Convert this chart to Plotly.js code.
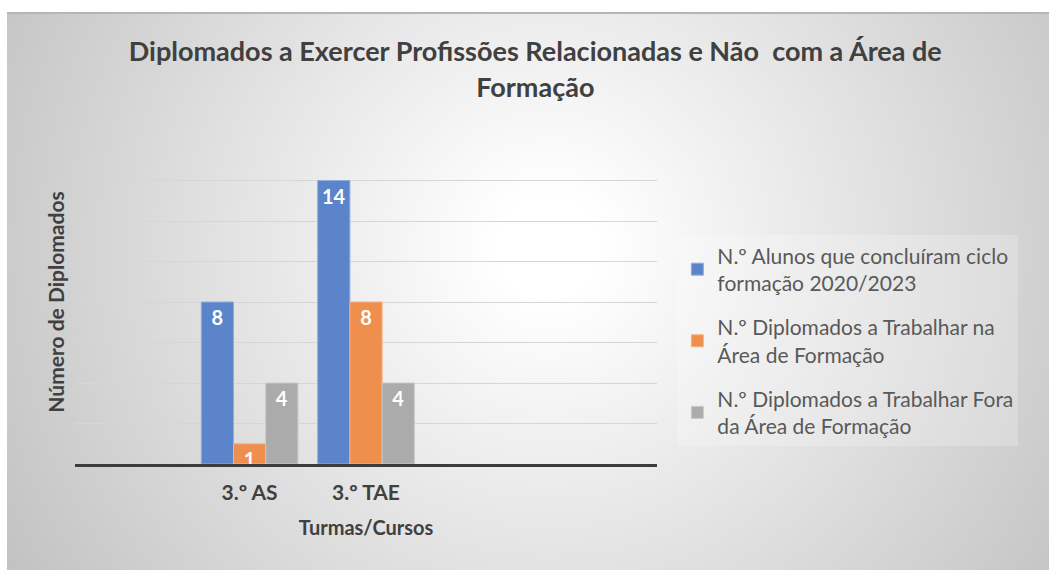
<!DOCTYPE html>
<html>
<head>
<meta charset="utf-8">
<script src="https://cdn.plot.ly/plotly-3.0.1.min.js"></script>
<style>
  body { margin: 0; background: #ffffff; }
  #plot {
    position: absolute; left: 7px; top: 12px; width: 1042px; height: 558px;
    background: radial-gradient(circle farthest-corner at 52% 42%, #ffffff 8%, #c2c2c2 100%);
    border-top: 2px solid #b5b5b5;
    box-sizing: border-box;
  }
</style>
</head>
<body>
<div id="plot"></div>
<script>
// categories (the empty slots keep the Excel spacing)
var cursos = ["3.º AS", "3.º TAE"];
var posicoes = [1, 2];

var concluiram = [8, 14];
var naArea = [1, 8];
var foraArea = [4, 4];

var nomes = [
  "N.º Alunos que concluíram ciclo<br>formação 2020/2023",
  "N.º Diplomados a Trabalhar na<br>Área de Formação",
  "N.º Diplomados a Trabalhar Fora<br>da Área de Formação"
];

function serie(valores, nome, grupo, cor, borda) {
  return {
    x: posicoes,
    y: valores,
    type: "bar",
    name: nome,
    legendgroup: grupo,
    text: valores.map(String),
    textposition: "inside",
    insidetextanchor: "end",
    textangle: 0,
    constraintext: "none",
    cliponaxis: false,
    textfont: { color: "#ffffff", size: 20, family: "Lato, 'Open Sans', sans-serif", weight: "bold" },
    marker: { color: cor, line: { color: borda, width: 1 } },
    hoverinfo: "x+y"
  };
}

var trace1 = serie(concluiram, nomes[0], "a", "#5b84cb", "#8eaee0");
var trace2 = serie(naArea, nomes[1], "b", "#ef8f4e", "#f5b286");
var trace3 = serie(foraArea, nomes[2], "c", "#ababab", "#c9c9c9");

var data = [trace1, trace2, trace3];

var layout = {
  width: 1042,
  height: 558,
  paper_bgcolor: "rgba(0,0,0,0)",
  plot_bgcolor: "rgba(0,0,0,0)",
  font: { family: "Lato, 'Open Sans', sans-serif", color: "#595959" },
  margin: { l: 68, r: 392, t: 126, b: 108 },
  barmode: "group",
  bargap: 0.17,
  bargroupgap: 0,
  title: {
    text: "Diplomados a Exercer Profissões Relacionadas e Não  com a Área de<br>Formação",
    font: { size: 27, color: "#404040", weight: "bold" },
    x: 0.507, xanchor: "center",
    y: 0.915, yanchor: "top"
  },
  xaxis: {
    range: [-0.5, 4.5],
    tickvals: posicoes,
    ticktext: cursos,
    tickfont: { size: 21, color: "#404040", weight: "bold" },
    showgrid: false,
    zeroline: false,
    showline: true,
    linecolor: "#3c3c3c",
    linewidth: 3,
    ticks: "",
    ticklabelstandoff: 8,
    title: { text: "Turmas/Cursos", font: { size: 20, color: "#404040", weight: "bold" }, standoff: 18 }
  },
  yaxis: {
    range: [0, 16],
    dtick: 2,
    showticklabels: false,
    showgrid: true,
    gridcolor: "#d6d6d6",
    gridwidth: 1,
    zeroline: false,
    ticks: "",
    title: { text: "Número de Diplomados", font: { size: 21, color: "#404040", weight: "bold" }, standoff: 3 }
  },
  legend: {
    x: 1.035, xanchor: "left",
    y: 0.38, yanchor: "middle",
    bgcolor: "rgba(255,255,255,0.22)",
    font: { size: 21, color: "#595959" },
    traceorder: "grouped",
    tracegroupgap: 14,
    itemwidth: 30
  },
  showlegend: true
};

Plotly.newPlot("plot", data, layout, { displayModeBar: false, staticPlot: true });
</script>
</body>
</html>
